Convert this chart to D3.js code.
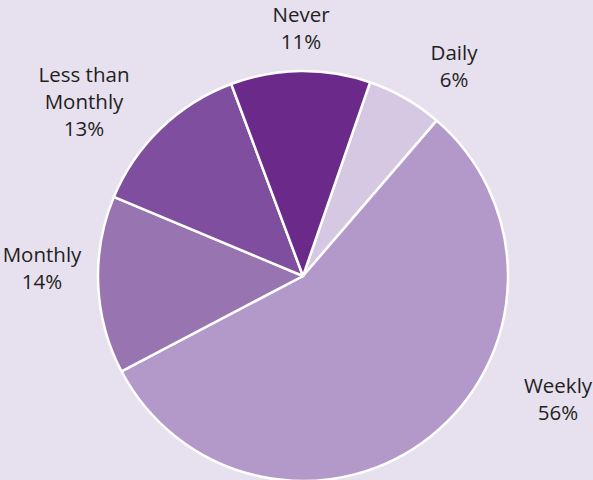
<!DOCTYPE html>
<html>
<head>
<meta charset="utf-8">
<script src="https://cdn.jsdelivr.net/npm/d3@7"></script>
<style>
  html, body { margin: 0; padding: 0; background: #e7e0ef; }
  svg { display: block; }
  text { font-family: "Open Sans", sans-serif; font-size: 20.5px; fill: #231f20; }
</style>
</head>
<body>
<div id="chart"></div>
<script>
// chart values
var categories = ["Daily", "Weekly", "Monthly", "Less than Monthly", "Never"];
var shares = [6, 56, 14, 13, 11];
var labelLines = [["Daily", "6%"], ["Weekly", "56%"], ["Monthly", "14%"], ["Less than", "Monthly", "13%"], ["Never", "11%"]];

// styling / layout
var colors = ["#d6c8e2", "#b399c9", "#9874b0", "#7f4e9e", "#6b2a8a"];
var labelPos = [[454, 60], [558, 393], [42, 262], [84, 82], [301, 22]];

var width = 593, height = 480;
var cx = 303, cy = 276, radius = 205;

var svg = d3.select('#chart').append('svg')
  .attr('width', width)
  .attr('height', height);

svg.append('rect')
  .attr('width', width)
  .attr('height', height)
  .attr('fill', '#e7e0ef');

var data = categories.map(function (c, i) {
  return { name: c, value: shares[i], color: colors[i], lines: labelLines[i], pos: labelPos[i] };
});

var start = 19.1 * Math.PI / 180;
var pie = d3.pie()
  .value(function (d) { return d.value; })
  .sort(null)
  .startAngle(start)
  .endAngle(start + 2 * Math.PI);

var arc = d3.arc().innerRadius(0).outerRadius(radius);

var g = svg.append('g').attr('transform', 'translate(' + cx + ',' + cy + ')');

g.selectAll('path').data(pie(data))
  .enter().append('path')
  .attr('d', arc)
  .attr('fill', function (d) { return d.data.color; })
  .attr('stroke', '#ffffff')
  .attr('stroke-width', 2.5)
  .attr('stroke-linejoin', 'round');

var labels = svg.selectAll('text.lbl').data(data)
  .enter().append('text')
  .attr('class', 'lbl')
  .attr('text-anchor', 'middle')
  .attr('x', function (d) { return d.pos[0]; })
  .attr('y', function (d) { return d.pos[1]; });

labels.each(function (d) {
  var t = d3.select(this);
  d.lines.forEach(function (line, j) {
    t.append('tspan')
      .attr('x', d.pos[0])
      .attr('dy', j === 0 ? 0 : 27)
      .text(line);
  });
});
</script>
</body>
</html>
